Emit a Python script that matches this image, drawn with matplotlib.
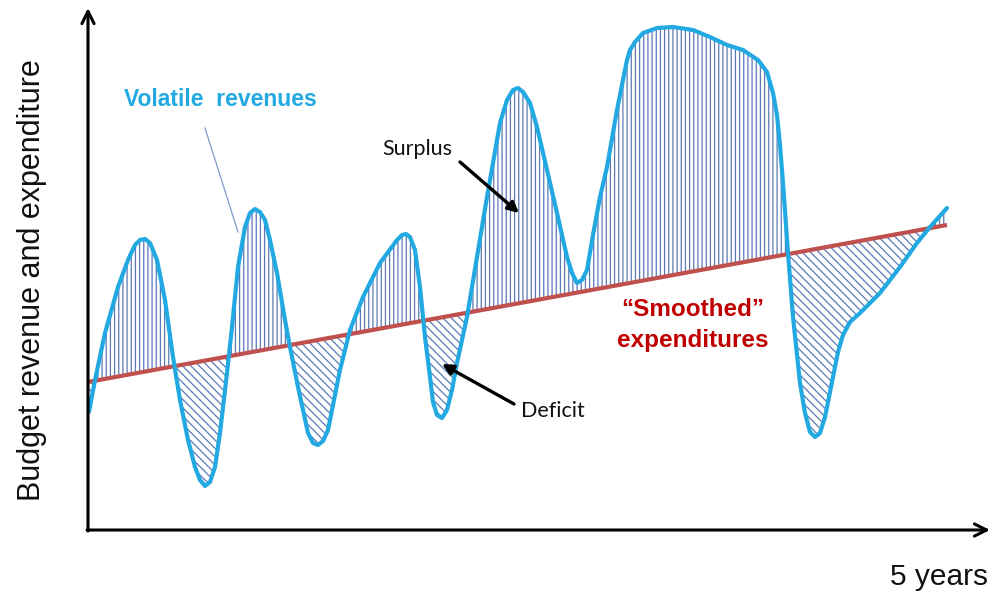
import numpy as np
import matplotlib
matplotlib.use("Agg")
import matplotlib.pyplot as plt

plt.rcParams['hatch.linewidth'] = 0.9

# Volatile revenues (time units, value units)
rev_t = [1, 7, 17, 30, 40, 47, 52, 57, 62, 69, 77, 85, 92, 100, 107, 112, 117, 122, 127, 132,
         139, 144, 150, 157, 162, 167, 172, 177, 182, 189, 197, 202, 210, 220, 225, 230, 235, 240,
         252, 262, 275, 292, 309, 314, 318, 322, 327, 332, 337, 342, 345, 349, 354, 359, 364, 369,
         379, 389, 399, 412, 419, 425, 430, 435, 442, 449, 459, 469, 479, 484, 489, 494, 499, 505,
         512, 519, 529, 539, 542, 547, 555, 569, 585, 605, 622, 639, 655, 670, 679, 685, 689, 692,
         695, 700, 705, 712, 717, 722, 727, 732, 737, 745, 750, 755, 762, 772, 792, 812, 829, 842, 859]
rev_v = [118, 150, 197, 243, 270, 285, 290, 291, 287, 270, 230, 173, 130, 90, 63, 50, 44, 48, 63, 97,
         157, 203, 263, 303, 317, 321, 318, 310, 290, 257, 210, 183, 143, 97, 87, 85, 89, 100,
         160, 200, 233, 267, 290, 295, 296, 293, 280, 243, 193, 153, 128, 115, 112, 120, 140, 167,
         213, 273, 333, 407, 430, 440, 442, 438, 427, 403, 360, 317, 273, 257, 247, 250, 260, 295,
         333, 363, 420, 470, 480, 488, 497, 502, 503, 500, 493, 485, 480, 470, 458, 437, 415, 385,
         347, 277, 213, 147, 117, 98, 93, 97, 113, 153, 178, 195, 208, 217, 237, 263, 287, 303, 322]

# "Smoothed" expenditures: straight trend line (start, end)
exp_t = [0, 859]
exp_v = [148, 305]

BLUE = '#22A9E2'
RED = '#C0504D'
HATCH = '#5A79B5'
DARKRED = '#C00000'

fig = plt.figure(figsize=(9.92, 5.92), dpi=100)
ax = fig.add_axes([0, 0, 1, 1])
ax.set_xlim(-88, 904)
ax.set_ylim(-62, 530)
ax.axis('off')

t = np.array(rev_t, dtype=float)
r = np.array(rev_v, dtype=float)
e = np.interp(t, exp_t, exp_v)

ax.fill_between(t, r, e, where=r >= e, interpolate=True, facecolor='none',
                edgecolor=HATCH, hatch='||||', linewidth=0, zorder=1)
ax.fill_between(t, r, e, where=r < e, interpolate=True, facecolor='none',
                edgecolor=HATCH, hatch='\\\\\\\\', linewidth=0, zorder=1)

ax.plot(exp_t, exp_v, color=RED, lw=3.0, solid_capstyle='butt', zorder=3)
ax.plot(t, r, color=BLUE, lw=3.0, solid_joinstyle='round', solid_capstyle='round', zorder=4)

# axes arrows
ax.annotate('', xy=(0, 522), xytext=(0, -1),
            arrowprops=dict(arrowstyle='->', lw=2.2, color='black', mutation_scale=22,
                            shrinkA=0, shrinkB=0), zorder=5)
ax.annotate('', xy=(902, 0), xytext=(-1, 0),
            arrowprops=dict(arrowstyle='->', lw=2.2, color='black', mutation_scale=22,
                            shrinkA=0, shrinkB=0), zorder=5)

ax.text(-56, 250, 'Budget revenue and expenditure', rotation=90, ha='center', va='center',
        fontsize=22, family='Liberation Sans', color='#111111')
ax.text(851, -47, '5 years', ha='center', va='center', fontsize=21.5,
        family='Liberation Sans', color='#111111')

ax.text(132, 431, 'Volatile  revenues', ha='center', va='center', fontsize=16.5,
        fontweight='bold', family='Liberation Sans', color=BLUE)
ax.plot([117, 150], [402, 298], color='#7F9CC7', lw=0.9, zorder=2)

ax.text(329, 381, 'Surplus', ha='center', va='center', fontsize=15.5,
        family='Lato', color='#111111')
ax.annotate('', xy=(431, 317), xytext=(372, 368),
            arrowprops=dict(arrowstyle='-|>', lw=2.4, color='black', mutation_scale=16,
                            shrinkA=0, shrinkB=0), zorder=6)

ax.text(465, 119, 'Deficit', ha='center', va='center', fontsize=15.5,
        family='Lato', color='#111111')
ax.annotate('', xy=(354, 166), xytext=(426, 126),
            arrowprops=dict(arrowstyle='-|>', lw=2.4, color='black', mutation_scale=16,
                            shrinkA=0, shrinkB=0), zorder=6)

ax.text(605, 221, '\u201cSmoothed\u201d', ha='center', va='center', fontsize=17.5,
        fontweight='bold', family='Liberation Sans', color=DARKRED)
ax.text(605, 190, 'expenditures', ha='center', va='center', fontsize=17.5,
        fontweight='bold', family='Liberation Sans', color=DARKRED)

fig.savefig('out.png', dpi=100, facecolor='white')
